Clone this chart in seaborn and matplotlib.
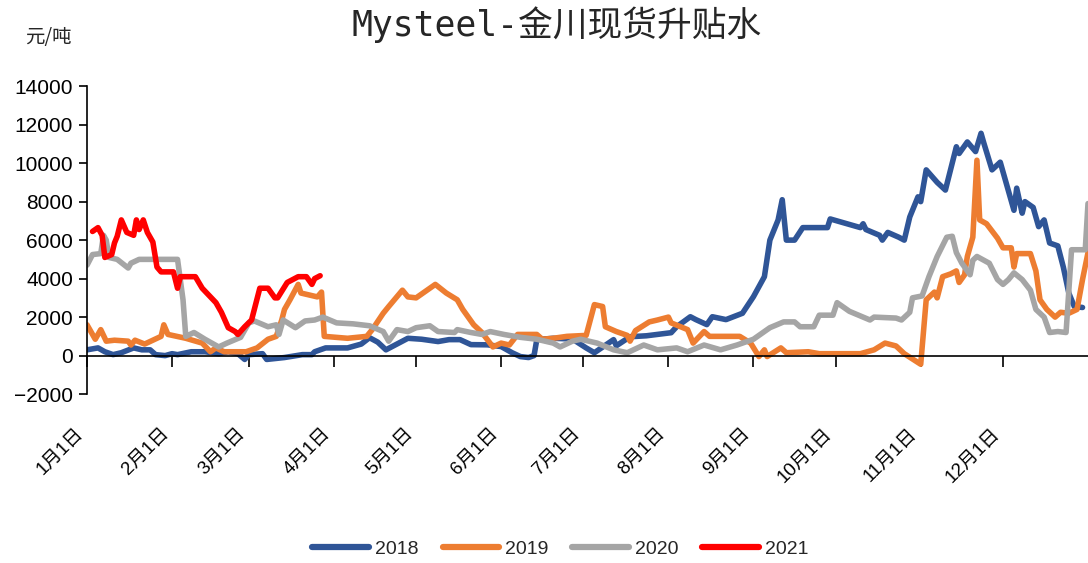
# Mysteel 金川 spot premium, seasonal comparison by year
import matplotlib
matplotlib.use("Agg")
import pandas as pd
import matplotlib.pyplot as plt
import seaborn as sns

# x axis: day of year (Jan 1 = 0)
month_days = [0, 31, 59, 90, 120, 151, 181, 212, 243, 273, 304, 334]
month_labels = [f"{m}月1日" for m in range(1, 13)]
years = ["2018", "2019", "2020", "2021"]
colors = ["#2F5597", "#ED7D31", "#A5A5A5", "#FF0000"]

days_2018 = [0, 4, 6.5, 9.5, 12.5, 17, 20, 23, 25, 28.5, 31, 33, 38, 43, 48, 51.5, 55, 57.5,
             59, 64, 65.5, 72, 78.5, 82, 83, 87, 90, 95, 100, 103, 106, 109, 113, 117, 122,
             128, 132, 136, 140, 146, 151, 155, 158, 161, 163, 164, 170, 177, 182, 185, 192,
             193, 198, 204, 213, 215, 220, 222, 226, 228, 233, 239, 243, 247, 249, 252, 253.5,
             255, 258, 261, 270, 271, 282, 283, 284, 289, 290, 292, 296, 298, 300, 303, 304,
             306, 310, 313, 317, 318, 321, 324, 326, 327, 330, 333, 338, 339, 341, 342, 345,
             347, 349, 351, 354, 356, 358, 360, 363]
vals_2018 = [300, 400, 200, 50, 150, 400, 300, 300, 50, 0, 100, 50, 200, 200, 100, 200, 100, -200,
             50, 100, -200, -100, 50, 50, 200, 400, 400, 400, 600, 930, 700, 300, 600, 900, 850,
             730, 830, 830, 570, 560, 470, 150, -50, -100, 0, 830, 900, 860, 400, 150, 830,
             510, 980, 1030, 1190, 1500, 2020, 1870, 1610, 2020, 1870, 2200, 3060, 4100, 6000, 7050, 8100,
             6000, 6000, 6650, 6650, 7100, 6650, 6850, 6550, 6250, 6000, 6400, 6150, 6000, 7200, 8250, 8000,
             9650, 9000, 8600, 10850, 10500, 11100, 10600, 11550, 11050, 9650, 10050, 7550, 8700, 7400, 8000, 7700,
             6700, 7050, 5850, 5700, 4600, 3250, 2550, 2500]

days_2019 = [0, 3, 5, 7, 10, 15, 16, 17.5, 21, 24, 27, 28, 29.5, 36, 42, 45, 47, 50, 58, 62, 66,
             69, 71, 72, 74, 77, 78, 81, 84, 85.5, 86.5, 95, 102, 104, 108, 110, 115, 117, 120,
             127, 131, 135, 137, 141, 144, 148, 151, 154, 157, 164, 166, 170, 175, 182, 185, 188,
             189, 193, 197, 198, 200, 205, 208, 212, 213, 219, 221, 225, 227, 238, 242, 245, 247,
             248, 253, 255, 263, 267, 282, 287, 291, 295, 298, 304, 306, 309, 310, 312, 315, 317,
             318, 320, 321, 323, 324.5, 325.5, 328, 332, 334, 337, 338, 339, 344, 346, 347.5, 350,
             353, 355, 358, 361, 363, 365]
vals_2019 = [1600, 850, 1350, 750, 800, 750, 550, 800, 600, 800, 1000, 1600, 1100, 900, 650, 200, 400, 200, 200, 400, 850,
             1000, 1850, 2400, 2900, 3700, 3250, 3150, 3050, 3300, 1000, 900, 1000, 1350, 2200, 2550, 3400, 3050, 3000,
             3700, 3250, 2900, 2400, 1600, 1200, 450, 650, 550, 1100, 1100, 850, 900, 1000, 1050, 2650, 2550,
             1500, 1250, 1050, 750, 1300, 1750, 1850, 2000, 1700, 1350, 650, 1250, 1000, 1000, 650, -50, 300,
             -50, 400, 150, 200, 100, 100, 300, 650, 500, 100, -450, 2900, 3300, 3000, 4100, 4250, 4400,
             3800, 4200, 5150, 6150, 10150, 7050, 6850, 6100, 5600, 5600, 4600, 5300, 5300, 4400, 2900, 2400,
             2000, 2250, 2200, 2400, 3950, 5350]

days_2020 = [0, 2, 5, 6, 7, 8, 11, 15, 16, 19, 33, 35, 36, 39, 43, 48, 51, 56, 59, 61, 66, 69,
             70, 71.5, 76, 79.5, 83, 86, 91, 97, 103, 108, 110, 113, 117, 120, 125, 128, 134, 135,
             140, 144, 147, 152, 158, 164, 170, 172.5, 177, 180, 186, 192, 197, 203, 208, 215, 219,
             225, 231, 237, 243, 249, 254, 258, 260, 265, 267, 272, 273.5, 278, 285.5, 287, 295, 297,
             300, 301, 304.5, 307, 310, 313.5, 315.5, 317, 319, 322, 323, 324.5, 329, 332, 334, 336,
             338, 341, 344, 346, 349, 351, 354, 357, 359, 364, 365]
vals_2020 = [4700, 5250, 5300, 6250, 6000, 5100, 5000, 4550, 4800, 5000, 5000, 2900, 1000, 1200, 850, 450, 650, 950, 1700, 1800, 1500, 1600,
             1100, 1850, 1450, 1800, 1850, 2000, 1700, 1650, 1550, 1250, 750, 1350, 1250, 1450, 1550, 1250, 1200, 1350,
             1200, 1100, 1250, 1100, 950, 850, 650, 450, 750, 850, 650, 300, 150, 550, 300, 400, 200,
             550, 300, 550, 850, 1450, 1750, 1750, 1500, 1500, 2100, 2100, 2750, 2300, 1850, 2000, 1950, 1850,
             2250, 3000, 3100, 4100, 5150, 6150, 6200, 5350, 4800, 4200, 4950, 5150, 4800, 3950, 3700, 3950,
             4300, 3950, 3400, 2400, 2000, 1200, 1250, 1200, 5500, 5500, 7900]

days_2021 = [2, 4, 5.5, 6.5, 9, 10, 11, 12.5, 14.5, 17, 18, 19, 20.5, 22, 24, 25.5, 27, 31.5, 33,
             34, 39.5, 42, 47, 49, 51.5, 54, 55, 57.5, 60, 61, 63, 66, 68.5, 69.5, 73, 77, 80, 82,
             83, 85]
vals_2021 = [6450, 6650, 6250, 5100, 5250, 5850, 6200, 7050, 6400, 6250, 7050, 6550, 7050, 6400, 5900, 4600, 4350, 4350, 3500,
             4100, 4100, 3500, 2750, 2250, 1450, 1250, 1100, 1500, 1850, 2400, 3500, 3500, 3000, 3000, 3800, 4100, 4100, 3700,
             4000, 4150]

all_days = [days_2018, days_2019, days_2020, days_2021]
all_vals = [vals_2018, vals_2019, vals_2020, vals_2021]
frames = [pd.DataFrame({"day": d, "value": v, "year": yr})
          for yr, d, v in zip(years, all_days, all_vals)]
df = pd.concat(frames, ignore_index=True)

sns.set_theme(style="white")
plt.rcParams["font.family"] = ["Liberation Sans", "Noto Sans CJK SC"]

fig, ax = plt.subplots(figsize=(10.88, 5.63), dpi=100)
fig.subplots_adjust(left=0.080, right=1.0, top=0.847, bottom=0.300)

sns.lineplot(data=df, x="day", y="value", hue="year", palette=colors,
             estimator=None, sort=False, linewidth=4, ax=ax)
for line in ax.get_lines():
    line.set_solid_capstyle("round")
    line.set_solid_joinstyle("round")

# spines first (moving a spine resets its ticks)
for side in ["top", "right"]:
    ax.spines[side].set_visible(False)
for side in ["left", "bottom"]:
    ax.spines[side].set_color("black")
    ax.spines[side].set_linewidth(1.2)
ax.spines["bottom"].set_position(("data", 0))

# axes
ax.set_xlim(0, 365)
ax.set_ylim(-2000, 14000)
ax.set_yticks(range(-2000, 14001, 2000))
ax.set_xticks(month_days)
ax.set_xticklabels(month_labels)
ax.set_xlabel("")
ax.set_ylabel("")

ax.tick_params(axis="y", left=True, direction="out", length=6, width=1.2,
               color="black", labelsize=15, pad=4, labelcolor="black")
ax.tick_params(axis="x", bottom=True, direction="out", length=8, width=1.2,
               color="black", labelsize=13.5, pad=42, labelcolor="black",
               labelrotation=45)
plt.setp(ax.get_xticklabels(), ha="right")

# legend
handles, labels = ax.get_legend_handles_labels()
ax.get_legend().remove()
leg = fig.legend(handles, labels, loc="center", bbox_to_anchor=(0.515, 0.025),
                 ncol=4, frameon=False, fontsize=14, handlelength=2.9,
                 handletextpad=0.3, columnspacing=1.25)
for h in leg.get_lines():
    h.set_linewidth(4.5)
    h.set_solid_capstyle("round")

# title and unit
fig.text(0.512, 0.957, "Mysteel-金川现货升贴水", ha="center", va="center",
         fontsize=25, family=["DejaVu Sans Mono", "Noto Sans CJK SC"])
fig.text(0.023, 0.934, "元/吨", ha="left", va="center", fontsize=14,
         family=["Noto Sans CJK SC"])

fig.savefig("out.png", dpi=100)
